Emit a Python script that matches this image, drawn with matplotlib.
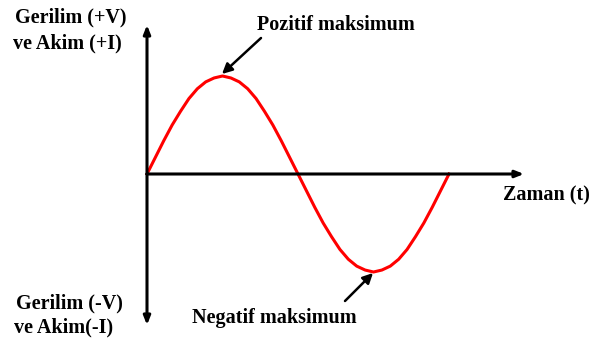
import matplotlib
matplotlib.use("Agg")
import matplotlib.pyplot as plt
import numpy as np

# phase angle in degrees and value (peak = 1)
angle_deg = [0, 10, 20, 30, 40, 50, 60, 70, 80, 90, 100, 110, 120, 130, 140, 150, 160, 170, 180,
             190, 200, 210, 220, 230, 240, 250, 260, 270, 280, 290, 300, 310, 320, 330, 340, 350, 360]
voltage = [0.0, 0.17, 0.34, 0.5, 0.64, 0.77, 0.87, 0.94, 0.98, 1.0,
           0.98, 0.94, 0.87, 0.77, 0.64, 0.5, 0.34, 0.17, 0.0,
           -0.17, -0.34, -0.5, -0.64, -0.77, -0.87, -0.94, -0.98, -1.0,
           -0.98, -0.94, -0.87, -0.77, -0.64, -0.5, -0.34, -0.17, 0.0]

label_top = ["Gerilim (+V)", "ve Akim (+I)"]
label_bottom = ["Gerilim (-V)", "ve Akim(-I)"]
label_time = "Zaman (t)"
label_pos = "Pozitif maksimum"
label_neg = "Negatif maksimum"

W, H = 591, 343
x0, y0 = 147, 174          # origin in pixels
sx, sy = 302 / 360, 98     # pixels per degree, pixels per unit


def px(x, y):
    # pixel position -> data position
    return (x - x0) / sx, (y0 - y) / sy


fig = plt.figure(figsize=(W / 100, H / 100), dpi=100)
ax = fig.add_axes([0, 0, 1, 1])
ax.set_xlim(px(0, 0)[0], px(W, 0)[0])
ax.set_ylim(px(0, H)[1], px(0, 0)[1])
ax.axis("off")

plt.rcParams["font.family"] = ["Liberation Serif", "DejaVu Serif"]
font = dict(fontsize=14.5, fontweight="bold", color="black")

# axes with arrows
arrow = dict(arrowstyle="-|>,head_length=0.5,head_width=0.2", color="black",
             lw=2.2, shrinkA=0, shrinkB=0)
ax.annotate("", xy=px(x0, 25), xytext=(0, 0), arrowprops=arrow)
ax.annotate("", xy=px(x0, 325), xytext=(0, 0), arrowprops=arrow)
ax.annotate("", xy=px(524, y0), xytext=(0, 0), arrowprops=arrow)

ax.plot(angle_deg, voltage, color="#ff0000", lw=2.2, solid_joinstyle="round")

ax.text(*px(15, 17), label_top[0], ha="left", va="center", **font)
ax.text(*px(13, 43), label_top[1], ha="left", va="center", **font)
ax.text(*px(16, 303), label_bottom[0], ha="left", va="center", **font)
ax.text(*px(14, 327), label_bottom[1], ha="left", va="center", **font)
ax.text(*px(503, 195), label_time, ha="left", va="center", **font)

pointer = dict(arrowstyle="-|>,head_length=0.6,head_width=0.3", color="black",
               lw=1.8, shrinkA=0, shrinkB=0)
ax.text(*px(336, 25), label_pos, ha="center", va="center", **font)
ax.annotate("", xy=px(222, 74), xytext=px(261, 38), arrowprops=pointer)
ax.text(*px(274, 318), label_neg, ha="center", va="center", **font)
ax.annotate("", xy=px(373, 273), xytext=px(345, 301), arrowprops=pointer)

fig.savefig("out.png", dpi=100, facecolor="white")
